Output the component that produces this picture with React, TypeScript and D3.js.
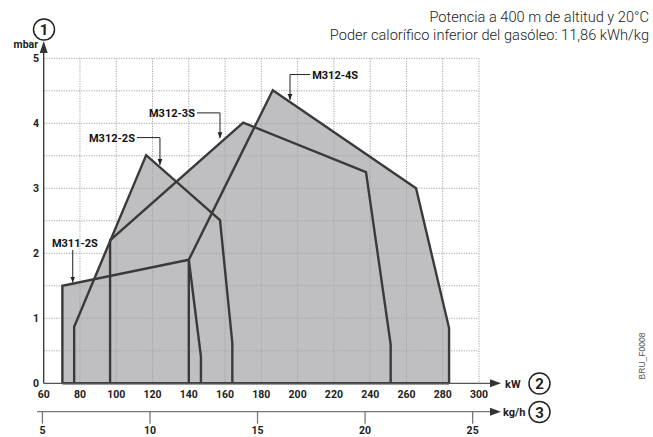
import React from "react";
import * as d3 from "d3";

const kwTicks = [60, 80, 100, 120, 140, 160, 180, 200, 220, 240, 260, 280, 300];
const mbarTicks = [0, 1, 2, 3, 4, 5];
const kghTicks = [5, 10, 15, 20, 25];
const gridKw = [80, 100, 120, 140, 160, 180, 200, 220, 240, 260, 280, 300];
const gridMbar = [0.5, 1, 1.5, 2, 2.5, 3, 3.5, 4, 4.5, 5];
const fuelKwhPerKg = 11.86;

const seriesNames = ["M311-2S", "M312-2S", "M312-3S", "M312-4S"];
const m3112S: [number, number][] = [[70.3, 0], [70.3, 1.5], [140, 1.9], [146.7, 0.41], [146.7, 0]];
const m3122S: [number, number][] = [[76.8, 0], [76.8, 0.87], [116.5, 3.51], [157.2, 2.51], [164, 0.62], [164, 0]];
const m3123S: [number, number][] = [[96.6, 0], [96.6, 2.2], [170, 4.01], [237.7, 3.25], [251.3, 0.6], [251.3, 0]];
const m3124S: [number, number][] = [[140, 0], [140, 1.9], [186.3, 4.51], [265.3, 3.0], [283.5, 0.85], [283.5, 0]];
const seriesPoints = [m3112S, m3122S, m3123S, m3124S];

// callout anchors (data coordinates): tip of arrow, elbow, text anchor
const calloutTips: [number, number][] = [[76, 1.55], [124.1, 3.36], [157.2, 3.77], [195.8, 4.36]];
const calloutElbows: [number, number][] = [[76, 2.05], [124.1, 3.78], [157.2, 4.16], [195.8, 4.75]];
const calloutText: [number, number][] = [[77.2, 2.16], [110.3, 3.78], [143.4, 4.16], [208, 4.75]];

const titleLines = ["Potencia a 400 m de altitud y 20°C", "Poder calorífico inferior del gasóleo: 11,86 kWh/kg"];

export default function App() {
  const x = d3.scaleLinear().domain([60, 300]).range([43.7, 479]);
  const y = d3.scaleLinear().domain([0, 5]).range([383.3, 58.3]);
  const line = d3.line<[number, number]>().x((d) => x(d[0])).y((d) => y(d[1]));
  const fill = "#bfbfc1";
  const stroke = "#3a3a3a";
  const bold = "Roboto, 'Noto Sans', sans-serif";
  const axisY = y(0);
  const kgY = 411.7;

  return (
    <svg width={653} height={437} style={{ position: "absolute", left: 0, top: 0, background: "#fff" }}>
      <defs>
        <marker id="tip" viewBox="0 0 10 10" refX="10" refY="5" markerWidth="6" markerHeight="6" orient="auto">
          <path d="M0,1 L10,5 L0,9 Z" fill="#222" />
        </marker>
      </defs>
      {/* fills */}
      {seriesPoints.map((pts, i) => (
        <path key={"f" + i} d={line(pts)! + "Z"} fill={fill} stroke="none" />
      ))}
      {/* grid */}
      {gridKw.map((k) => (
        <line key={"gx" + k} x1={x(k)} x2={x(k)} y1={y(5)} y2={axisY} stroke="#a4a4a4" strokeWidth={1} strokeDasharray="1.2,1.3" />
      ))}
      {gridMbar.map((m) => (
        <line key={"gy" + m} x1={x(60)} x2={x(300)} y1={y(m)} y2={y(m)} stroke="#a4a4a4" strokeWidth={1} strokeDasharray="1.2,1.3" />
      ))}
      {/* outlines */}
      {seriesPoints.map((pts, i) => (
        <path key={"o" + i} d={line(pts)!} fill="none" stroke={stroke} strokeWidth={2.4} strokeLinejoin="miter" />
      ))}
      {/* bottom edge */}
      <line x1={x(70.3)} x2={x(283.5)} y1={axisY} y2={axisY} stroke={stroke} strokeWidth={2.6} />

      {/* y axis */}
      <line x1={x(60)} x2={x(60)} y1={axisY} y2={52} stroke="#333" strokeWidth={1.3} />
      <path d={`M${x(60) - 4},${53} L${x(60)},${41} L${x(60) + 4},${53} Z`} fill="#333" />
      <text x={38} y={48} textAnchor="end" fontFamily={bold} fontWeight={700} fontSize={10.5} fill="#222">mbar</text>
      <circle cx={44} cy={29.5} r={10.5} fill="none" stroke="#222" strokeWidth={1.5} />
      <text x={44} y={35} textAnchor="middle" fontFamily={bold} fontWeight={700} fontSize={15} fill="#222">1</text>
      {mbarTicks.map((m) => (
        <text key={"yt" + m} x={39} y={y(m) + 4} textAnchor="end" fontFamily={bold} fontWeight={700} fontSize={10.5} fill="#222">{m}</text>
      ))}

      {/* x axis kW */}
      <line x1={x(60)} x2={492} y1={axisY} y2={axisY} stroke="#555" strokeWidth={1.3} />
      <path d={`M${490},${axisY - 4} L${501},${axisY} L${490},${axisY + 4} Z`} fill="#333" />
      {kwTicks.map((k) => (
        <text key={"xt" + k} x={x(k)} y={398} textAnchor="middle" fontFamily={bold} fontWeight={700} fontSize={10.5} fill="#222">{k}</text>
      ))}
      <text x={505} y={387.5} fontFamily={bold} fontWeight={700} fontSize={11} fill="#222">kW</text>
      <circle cx={539.5} cy={383.5} r={10.5} fill="none" stroke="#222" strokeWidth={1.5} />
      <text x={539.5} y={389} textAnchor="middle" fontFamily={bold} fontWeight={700} fontSize={15} fill="#222">2</text>

      {/* x axis kg/h */}
      <line x1={37} x2={492} y1={kgY} y2={kgY} stroke="#777" strokeWidth={1.3} />
      <path d={`M${490},${kgY - 4} L${501},${kgY} L${490},${kgY + 4} Z`} fill="#333" />
      {kghTicks.map((g) => (
        <g key={"kt" + g}>
          <line x1={x(g * fuelKwhPerKg)} x2={x(g * fuelKwhPerKg)} y1={kgY} y2={kgY + 12} stroke="#777" strokeWidth={1.3} />
          <text x={x(g * fuelKwhPerKg)} y={434} textAnchor="middle" fontFamily={bold} fontWeight={700} fontSize={10.5} fill="#222">{g}</text>
        </g>
      ))}
      <text x={503} y={416} fontFamily={bold} fontWeight={700} fontSize={11} fill="#222">kg/h</text>
      <circle cx={539.5} cy={412} r={10.5} fill="none" stroke="#222" strokeWidth={1.5} />
      <text x={539.5} y={417.5} textAnchor="middle" fontFamily={bold} fontWeight={700} fontSize={15} fill="#222">3</text>

      {/* callouts */}
      {seriesNames.map((name, i) => {
        const [tx, ty] = calloutTips[i];
        const [ex, ey] = calloutElbows[i];
        const [lx, ly] = calloutText[i];
        const isFirst = i === 0;
        const pts = isFirst
          ? `M${x(ex)},${y(ey)} L${x(tx)},${y(ty)}`
          : `M${x(lx) + (i === 3 ? -2 : 2)},${y(ey)} L${x(ex)},${y(ey)} L${x(tx)},${y(ty)}`;
        return (
          <g key={"c" + i}>
            <path d={pts} fill="none" stroke="#222" strokeWidth={1} markerEnd="url(#tip)" />
            <text
              x={x(lx)}
              y={y(ly) + 4}
              textAnchor={isFirst ? "middle" : i === 3 ? "start" : "end"}
              fontFamily={bold}
              fontWeight={700}
              fontSize={11}
              fill="#111"
            >
              {name}
            </text>
          </g>
        );
      })}

      {/* title */}
      {titleLines.map((t, i) => (
        <text key={"t" + i} x={649} y={22 + i * 17.5} textAnchor="end" fontFamily="Roboto, sans-serif" fontWeight={300} fontSize={14.6} fill="#222">{t}</text>
      ))}
      <text transform="translate(645,356) rotate(-90)" textAnchor="middle" fontFamily="'Liberation Sans', Arial, sans-serif" fontSize={8.5} fill="#555">BRU_F0008</text>
    </svg>
  );
}
